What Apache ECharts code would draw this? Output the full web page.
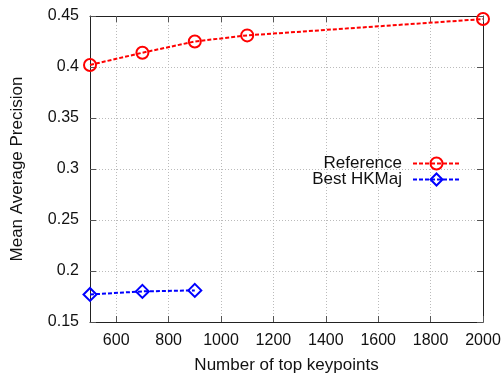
<!DOCTYPE html>
<html>
<head>
<meta charset="utf-8">
<script src="https://cdn.jsdelivr.net/npm/echarts@6/dist/echarts.min.js"></script>
<style>
  html, body { margin: 0; padding: 0; background: #fff; }
  #chart { width: 503px; height: 376px; }
</style>
</head>
<body>
<div id="chart"></div>
<script>
// values
const refX = [500, 700, 900, 1100, 2000]
const refY = [0.402, 0.414, 0.425, 0.431, 0.447]
const hkX = [500, 700, 900]
const hkY = [0.177, 0.180, 0.181]
const xTicks = [600, 800, 1000, 1200, 1400, 1600, 1800, 2000]

const font = 'Liberation Sans, Arial, sans-serif'
const zip = (xs, ys) => xs.map((x, i) => [x, ys[i]])

const axisLine = { show: true, lineStyle: { color: '#222', width: 1 } }
const tick = { show: true, inside: true, length: 6, lineStyle: { color: '#555' } }
const xTick = Object.assign({ customValues: xTicks }, tick)
const grid = { show: true, lineStyle: { color: '#bbb', type: [1, 2], width: 1 } }
const nameStyle = { fontFamily: font, fontSize: 17, color: '#111' }

const chart = echarts.init(document.getElementById('chart'))
chart.setOption({
  animation: false,
  grid: { left: 90, right: 20, top: 16, bottom: 54, outerBoundsMode: 'none', containLabel: false },
  legend: {
    orient: 'vertical',
    right: 37,
    top: 150,
    align: 'right',
    itemWidth: 47,
    itemHeight: 15,
    itemGap: -1,
    textStyle: { fontFamily: font, fontSize: 17, color: '#111', padding: [0, 6, 0, 0] },
    data: ['Reference', 'Best HKMaj']
  },
  xAxis: [{
    type: 'value', min: 500, max: 2000,
    name: 'Number of top keypoints', nameLocation: 'middle', nameGap: 35,
    nameTextStyle: nameStyle,
    axisLine, axisTick: xTick, splitLine: grid,
    axisLabel: {
      fontFamily: font, fontSize: 16, color: '#111', margin: 11,
      customValues: xTicks, formatter: v => String(v)
    }
  }, {
    type: 'value', min: 500, max: 2000, position: 'top',
    axisLine, axisTick: xTick, splitLine: { show: false },
    axisLabel: { show: false, customValues: xTicks }
  }],
  yAxis: [{
    type: 'value', min: 0.15, max: 0.45, interval: 0.05,
    name: 'Mean Average Precision', nameLocation: 'middle', nameGap: 64,
    nameTextStyle: nameStyle,
    axisLine, axisTick: tick, splitLine: grid,
    axisLabel: { fontFamily: font, fontSize: 16, color: '#111', margin: 11 }
  }, {
    type: 'value', min: 0.15, max: 0.45, interval: 0.05, position: 'right',
    axisLine, axisTick: tick, splitLine: { show: false }, axisLabel: { show: false }
  }],
  series: [{
    name: 'Reference', type: 'line', data: zip(refX, refY),
    symbol: 'circle', symbolSize: 12,
    itemStyle: { color: 'rgba(0,0,0,0)', borderColor: '#ff0000', borderWidth: 2 },
    lineStyle: { color: '#ff0000', width: 2, type: [4, 2] }
  }, {
    name: 'Best HKMaj', type: 'line', data: zip(hkX, hkY),
    symbol: 'diamond', symbolSize: 13,
    itemStyle: { color: 'rgba(0,0,0,0)', borderColor: '#0000ff', borderWidth: 2 },
    lineStyle: { color: '#0000ff', width: 2, type: [4, 2] }
  }]
})
</script>
</body>
</html>
